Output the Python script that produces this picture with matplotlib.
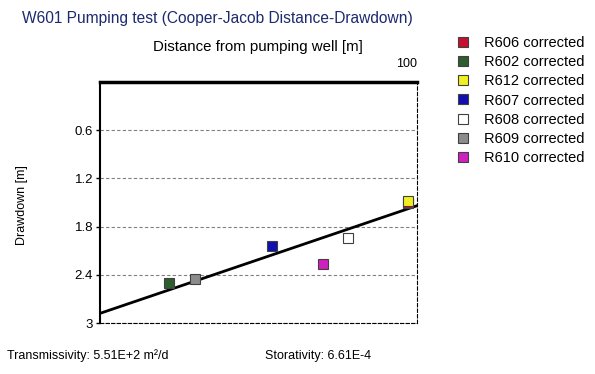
"""
Cooper-Jacob distance-drawdown chart for the W601 pumping test.
"""
import matplotlib.pyplot as plt

plt.rcParams['font.family'] = ['Liberation Sans', 'DejaVu Sans']

# observation wells (distance [m], drawdown [m])
wells = ['R606 corrected', 'R602 corrected', 'R612 corrected', 'R607 corrected',
         'R608 corrected', 'R609 corrected', 'R610 corrected']
well_colors = ['#c8102e', '#2e5e2e', '#f0f020', '#1010b0', '#ffffff', '#8c8c8c', '#d020c0']
distance = [94.0, 16.5, 93.5, 35.0, 60.5, 20.0, 50.5]
drawdown = [1.51, 2.50, 1.48, 2.04, 1.94, 2.45, 2.26]

# fitted straight line (Cooper-Jacob)
fit_distance = [10, 100]
fit_drawdown = [2.88, 1.54]

yticks = [0.6, 1.2, 1.8, 2.4, 3]
ytick_labels = ['0.6', '1.2', '1.8', '2.4', '3']

fig = plt.figure(figsize=(5.95, 3.74), dpi=100)
ax = fig.add_axes([100 / 595, 1 - 323 / 374, 317 / 595, 241 / 374])

ax.set_xscale('log')
ax.set_xlim(10, 100)
ax.set_ylim(3, 0)

for y in yticks:
    ax.axhline(y, color='#808080', linestyle=(0, (3, 2)), linewidth=0.8, zorder=1)

ax.plot(fit_distance, fit_drawdown, color='black', linewidth=2, zorder=2)

handles = []
for name, c, x, y in zip(wells, well_colors, distance, drawdown):
    h, = ax.plot([x], [y], marker='s', markersize=7, color=c,
                 markeredgecolor='#404040', markeredgewidth=0.8,
                 linestyle='none', label=name, zorder=3)
    handles.append(h)

ax.set_yticks(yticks)
ax.set_yticklabels(ytick_labels, fontsize=9.5)
ax.tick_params(axis='y', length=3, width=1, pad=2)
ax.set_xticks([])
ax.set_xticks([], minor=True)

ax.spines['top'].set_linewidth(2.5)
ax.spines['left'].set_linewidth(1.5)
ax.spines['bottom'].set_linestyle((0, (3, 2)))
ax.spines['bottom'].set_linewidth(0.8)
ax.spines['right'].set_linestyle((0, (3, 2)))
ax.spines['right'].set_linewidth(0.8)

ax.text(1.0, 1.05, '100', transform=ax.transAxes, fontsize=9,
        ha='right', va='bottom')

fig.text(22 / 595, 1 - 18 / 374, 'W601 Pumping test (Cooper-Jacob Distance-Drawdown)',
         fontsize=11.2, color='#1c2a6e', va='center', ha='left')
fig.text(258 / 595, 1 - 47 / 374, 'Distance from pumping well [m]',
         fontsize=10.8, va='center', ha='center')
fig.text(22 / 595, 1 - 205 / 374, 'Drawdown [m]', fontsize=9,
         rotation=90, va='center', ha='center')

fig.legend(handles=handles, loc='upper left', bbox_to_anchor=(450 / 595, 1 - 30 / 374),
           frameon=False, fontsize=10.5, handlelength=1, handletextpad=0.9,
           labelspacing=0.36, borderaxespad=0)

fig.text(7 / 595, 1 - 356 / 374, 'Transmissivity: 5.51E+2 m²/d', fontsize=9, va='center')
fig.text(265 / 595, 1 - 356 / 374, 'Storativity: 6.61E-4', fontsize=9, va='center')

fig.savefig('out.png', dpi=100)
